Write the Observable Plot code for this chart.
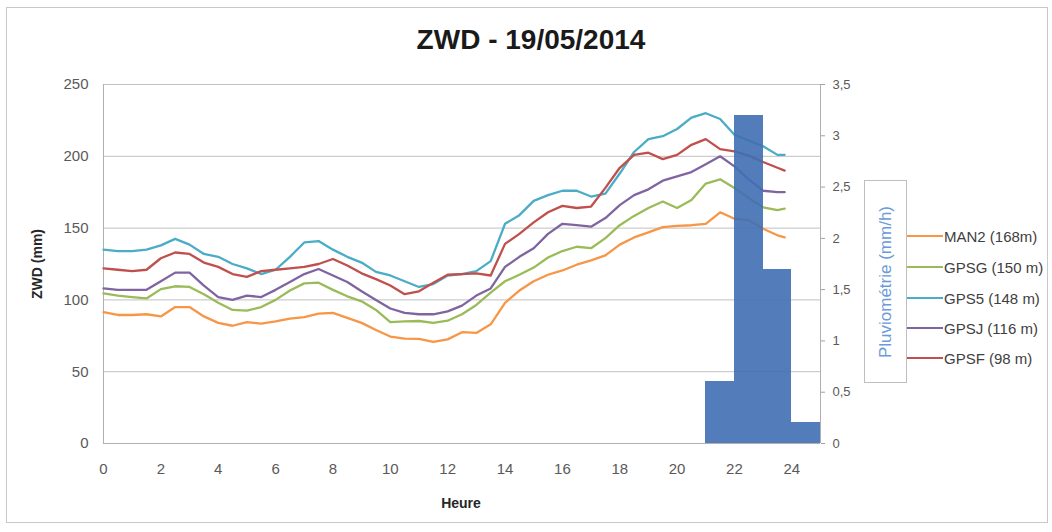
<!DOCTYPE html>
<html>
<head>
<meta charset="utf-8">
<script src="https://cdn.jsdelivr.net/npm/d3@7"></script>
<script src="https://cdn.jsdelivr.net/npm/@observablehq/plot@0.6"></script>
<style>
  html, body { margin: 0; padding: 0; background: #fff; }
  #wrap { position: relative; width: 1052px; height: 532px; overflow: hidden; font-family: "Liberation Sans", Arial, sans-serif; }
  #wrap svg { position: absolute; left: 0; top: 0; }
  .frame { position: absolute; left: 6px; top: 7px; width: 1042px; height: 516px; border: 1px solid #c8c8c8; box-sizing: border-box; }
  .title { position: absolute; left: 331px; width: 400px; top: 24px; text-align: center; font-size: 28px; font-weight: bold; color: #1a1a1a; }
  .ylab { position: absolute; left: 37px; top: 264px; transform: translate(-50%, -50%) rotate(-90deg); font-size: 14px; font-weight: bold; color: #262626; white-space: nowrap; }
  .xlab { position: absolute; left: 461px; top: 503px; transform: translate(-50%, -50%); font-size: 14px; font-weight: bold; color: #262626; white-space: nowrap; }
  .pbox { position: absolute; left: 864px; top: 180px; width: 43px; height: 203px; border: 1px solid #bfbfbf; box-sizing: border-box; background: #fff; }
  .pbox span { position: absolute; left: 50%; top: 50%; transform: translate(-50%, -50%) rotate(-90deg); font-size: 17px; color: #6a9ad8; white-space: nowrap; }
  .leg { position: absolute; left: 907px; height: 20px; display: flex; align-items: center; transform: translateY(-50%); }
  .leg i { display: inline-block; width: 36px; height: 2px; margin-right: 1px; }
  .leg b { font-weight: normal; font-size: 15px; color: #404040; white-space: nowrap; }
</style>
</head>
<body>
<div id="wrap"></div>
<script>
// ---- data ----
const hours = [0,0.5,1,1.5,2,2.5,3,3.5,4,4.5,5,5.5,6,6.5,7,7.5,8,8.5,9,9.5,10,10.5,11,11.5,12,12.5,13,13.5,14,14.5,15,15.5,16,16.5,17,17.5,18,18.5,19,19.5,20,20.5,21,21.5,22,22.5,23,23.5,23.75];
const MAN2 = [91.5,89.5,89.5,90,88.5,95,95,88.5,84,82,84.5,83.5,85,87,88,90.5,91,87.5,84,79,74.5,73,72.8,70.7,72.5,77.5,77,83,98,106.5,113,117.5,120.5,124.5,127.5,131,138.5,143.5,147,150.7,151.5,152,153,161,156.5,155.5,149.5,145,143.5];
const GPSG = [104.5,103,102,101,107.5,109.5,109,104,98,93,92.5,95,100,106.5,111.5,112,107,102.5,99,93,84.5,85,85.3,84,85.5,90,96.5,105,113,117.5,122.5,129.5,134,137,136,143,152,158.5,164,168.5,164,169.5,181,184,178,171,164.5,162.5,163.5];
const GPS5 = [135,134,134,135,138,142.5,138.5,132,130,125,122,118,121,130,140,141,135,130,126,119.5,117,113,109,111,117,118,120,127,153,159,169,173,176,176,172,174,188,203,212,214,219,227,230,226,215,211,207,201,201];
const GPSJ = [108,107,107,107,113,119,119,110,102,100,103,102,107,112.5,118,121.5,117,112.5,106,100,94,91,90,90,92,96,103,108,123,130,136,146,153,152,151,157,166,173,177,183,186,189,194.5,200,193,184,176,175,175];
const GPSF = [122,121,120,121,129,133,132,126,123,118,116,120,121,122,123,125,128.5,124,118.5,114.5,110,104,106,112,117.5,118,118.5,117,139,146,154,161,165.5,164,165,178,192,201,202.5,198,201,208,212,205,203.5,200.5,196,192,190];
const seriesNames = ["MAN2 (168m)", "GPSG (150 m)", "GPS5 (148 m)", "GPSJ (116 m)", "GPSF (98 m)"];
const rainStart = [21, 22, 23, 24];
const rainValue = [0.6, 3.2, 1.7, 0.2];
const xTicks = [0,2,4,6,8,10,12,14,16,18,20,22,24];
const yTicks = [0,50,100,150,200,250];
const rainTicks = [0,0.5,1,1.5,2,2.5,3,3.5];

// ---- styles ----
const colors = ["#F79646", "#9BBB59", "#4BACC6", "#8064A2", "#C0504D"];
const seriesValues = [MAN2, GPSG, GPS5, GPSJ, GPSF];
const k = 250 / 3.5; // secondary axis (0–3.5 mm/h) onto primary (0–250 mm)

const lineData = seriesValues.map((vals, s) => hours.map((h, i) => ({h, v: vals[i], s})));
const rainData = rainStart.map((s, i) => ({s, v: rainValue[i]}));

const chart = Plot.plot({
  width: 1052,
  height: 532,
  marginLeft: 103,
  marginRight: 232,
  marginTop: 84,
  marginBottom: 89,
  x: {domain: [0, 25], axis: null},
  y: {domain: [0, 250], axis: null},
  style: {fontFamily: "'Liberation Sans', Arial, sans-serif", color: "#595959", background: "transparent", overflow: "visible"},
  marks: [
    Plot.gridY(yTicks.filter(t => t > 0), {stroke: "#c0c0c0", strokeOpacity: 1}),
    Plot.ruleX([0], {stroke: "#b0b0b0"}),
    Plot.ruleX([25], {stroke: "#b0b0b0"}),
    Plot.ruleY([0], {stroke: "#b0b0b0"}),
    ...lineData.map((d, s) => Plot.line(d, {x: "h", y: "v", stroke: colors[s], strokeWidth: 2.3})),
    Plot.rect(rainData, {x1: "s", x2: d => d.s + 1, y1: 0, y2: d => d.v * k, fill: "#3F6FB3", fillOpacity: 0.9, shapeRendering: "crispEdges"}),
    Plot.axisX({ticks: xTicks, tickSize: 0, tickPadding: 20, label: null, fontSize: 15, tickFormat: d => String(d)}),
    Plot.axisY({ticks: yTicks, tickSize: 0, tickPadding: 15, label: null, fontSize: 15, tickFormat: d => String(d)}),
    Plot.axisY({anchor: "right", ticks: rainTicks.map(t => t * k), tickSize: 4, tickPadding: 8, label: null, fontSize: 13,
      stroke: "#a0a0a0", tickFormat: d => String(Math.round(d / k * 10) / 10).replace(".", ",")})
  ]
});

const wrap = document.getElementById("wrap");
wrap.appendChild(chart);

function add(cls, html, style) {
  const el = document.createElement("div");
  el.className = cls;
  el.innerHTML = html;
  if (style) Object.assign(el.style, style);
  wrap.appendChild(el);
  return el;
}
add("frame", "");
add("title", "ZWD - 19/05/2014");
add("ylab", "ZWD (mm)");
add("xlab", "Heure");
add("pbox", "<span>Pluviométrie (mm/h)</span>");
const legY = [236, 267, 298, 328, 358];
seriesNames.forEach((name, i) => {
  add("leg", `<i style="background:${colors[i]}"></i><b>${name}</b>`, {top: legY[i] + "px"});
});
</script>
</body>
</html>
